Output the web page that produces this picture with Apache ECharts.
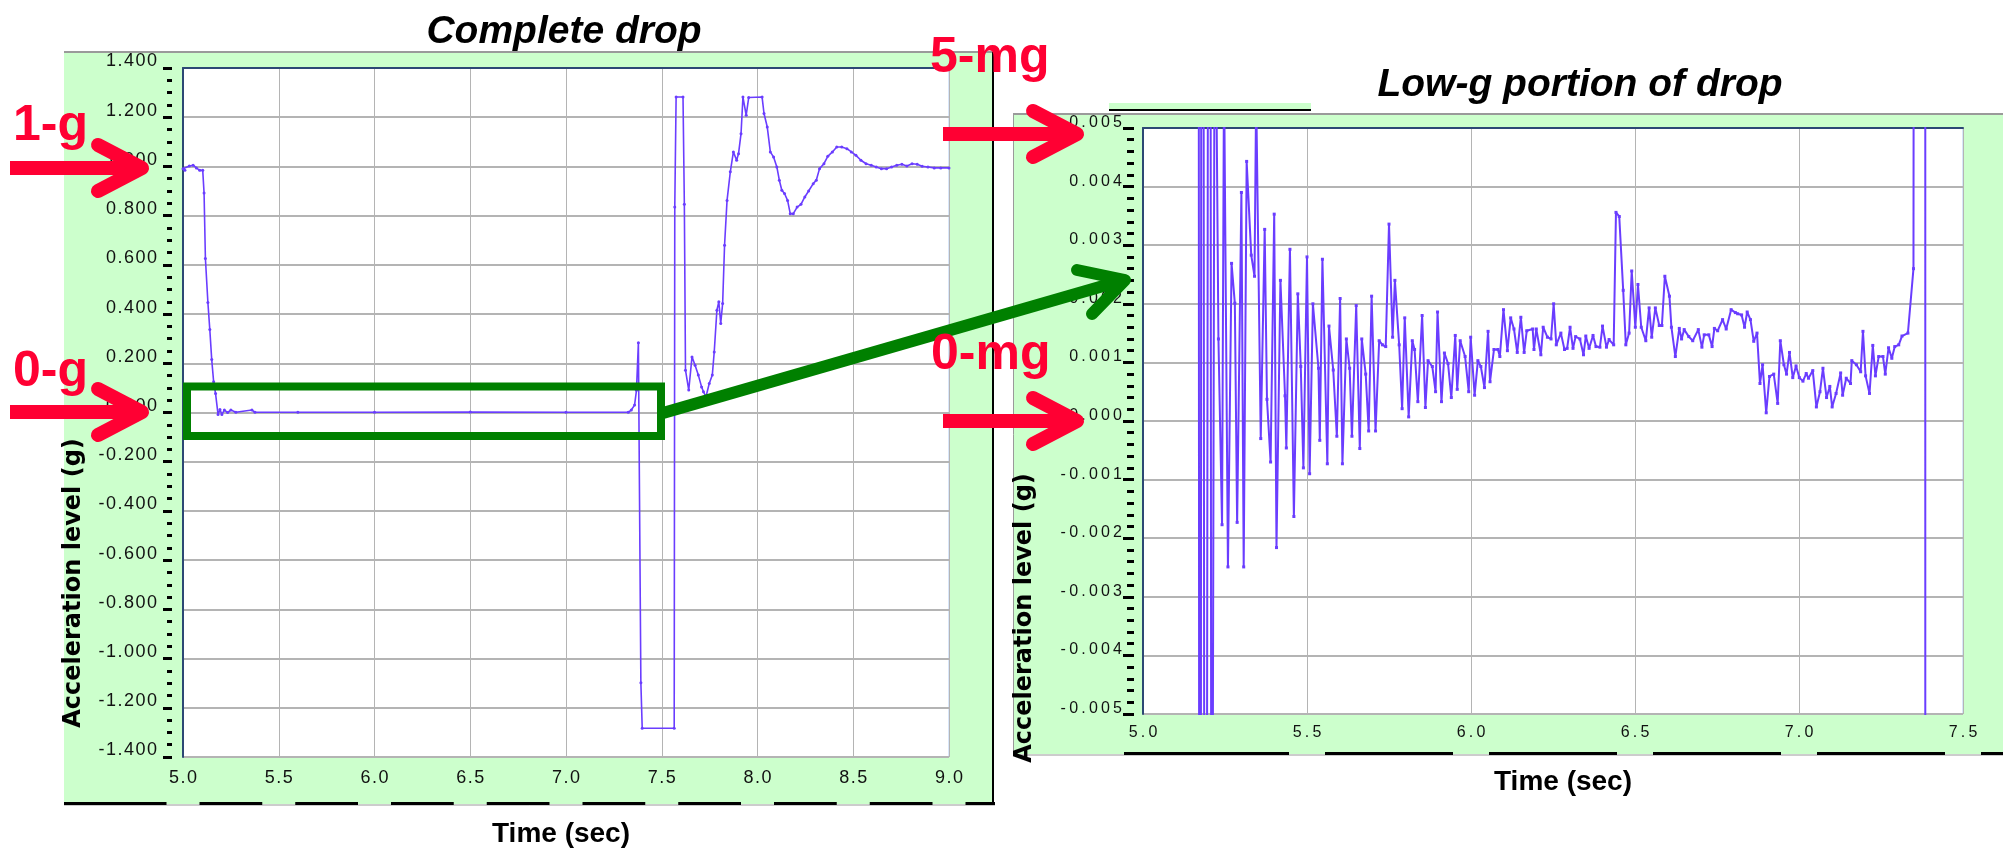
<!DOCTYPE html>
<html>
<head>
<meta charset="utf-8">
<title>Complete drop / Low-g portion of drop</title>
<script src="https://cdn.jsdelivr.net/npm/echarts@6/dist/echarts.min.js"></script>
<style>
    html, body { margin: 0; padding: 0; background: #fff; }
    #chart { width: 2003px; height: 851px; }
</style>
</head>
<body>
<div id="chart"></div>
<script>
    // complete drop, time (s) and acceleration (g)
    var dropTime = [
        5.000, 5.010, 5.033, 5.053, 5.070, 5.087, 5.103, 5.110, 5.117, 5.130,
        5.140, 5.150, 5.160, 5.170, 5.183, 5.193, 5.203, 5.216, 5.233, 5.250,
        5.276, 5.360, 5.376, 5.600, 6.000, 6.500, 7.000, 7.325, 7.341, 7.358,
        7.368, 7.378, 7.391, 7.398, 7.565, 7.568, 7.575, 7.611, 7.618, 7.624,
        7.641, 7.658, 7.674, 7.691, 7.708, 7.718, 7.731, 7.748, 7.764, 7.774,
        7.788, 7.798, 7.808, 7.818, 7.828, 7.841, 7.858, 7.874, 7.891, 7.901,
        7.914, 7.924, 7.941, 7.954, 8.024, 8.034, 8.051, 8.067, 8.084, 8.101,
        8.114, 8.127, 8.141, 8.157, 8.171, 8.187, 8.207, 8.227, 8.247, 8.267,
        8.291, 8.307, 8.324, 8.347, 8.367, 8.391, 8.414, 8.440, 8.467, 8.490,
        8.514, 8.540, 8.567, 8.594, 8.620, 8.647, 8.674, 8.700, 8.727, 8.754,
        8.780, 8.807, 8.834, 8.860, 8.890, 8.923, 8.957, 9.000
    ]
    var dropAccel = [
        0.991, 0.984, 1.002, 1.005, 0.994, 0.984, 0.984, 0.892, 0.626, 0.447,
        0.337, 0.215, 0.125, 0.077, -0.008, 0.012, -0.008, 0.010, 0.000, 0.010,
        0.001, 0.010, 0.001, 0.001, 0.001, 0.002, 0.001, 0.001, 0.010, 0.030,
        0.090, 0.283, -1.098, -1.283, -1.283, 0.835, 1.282, 1.282, 0.846, 0.172,
        0.091, 0.226, 0.192, 0.152, 0.104, 0.084, 0.064, 0.118, 0.152, 0.246,
        0.416, 0.450, 0.362, 0.443, 0.680, 0.862, 0.978, 1.059, 1.025, 1.052,
        1.133, 1.282, 1.208, 1.280, 1.282, 1.215, 1.160, 1.059, 1.038, 0.998,
        0.944, 0.903, 0.890, 0.862, 0.808, 0.808, 0.835, 0.846, 0.876, 0.900,
        0.930, 0.944, 0.991, 1.011, 1.041, 1.059, 1.079, 1.079, 1.072, 1.059,
        1.045, 1.025, 1.011, 1.005, 0.998, 0.991, 0.991, 0.998, 1.005, 1.009,
        1.002, 1.011, 1.009, 1.001, 0.998, 0.994, 0.994, 0.994
    ]

    // low-g portion, time (s) and acceleration (mg)
    var lowTime = [
        5.150, 5.160, 5.174, 5.180, 5.190, 5.203, 5.209, 5.219, 5.230, 5.241,
        5.247, 5.259, 5.270, 5.280, 5.287, 5.300, 5.307, 5.316, 5.330, 5.340,
        5.345, 5.359, 5.371, 5.378, 5.389, 5.400, 5.407, 5.419, 5.433, 5.437,
        5.448, 5.460, 5.472, 5.481, 5.489, 5.500, 5.508, 5.518, 5.535, 5.539,
        5.547, 5.562, 5.567, 5.580, 5.591, 5.601, 5.608, 5.620, 5.630, 5.637,
        5.650, 5.661, 5.667, 5.679, 5.688, 5.697, 5.709, 5.720, 5.730, 5.740,
        5.750, 5.761, 5.768, 5.781, 5.790, 5.798, 5.810, 5.821, 5.828, 5.838,
        5.851, 5.861, 5.869, 5.882, 5.892, 5.898, 5.910, 5.919, 5.930, 5.940,
        5.952, 5.958, 5.967, 5.982, 5.993, 5.999, 6.011, 6.021, 6.030, 6.041,
        6.052, 6.058, 6.070, 6.082, 6.088, 6.099, 6.111, 6.121, 6.131, 6.141,
        6.152, 6.162, 6.170, 6.188, 6.192, 6.199, 6.213, 6.220, 6.233, 6.244,
        6.252, 6.260, 6.274, 6.285, 6.293, 6.302, 6.311, 6.319, 6.332, 6.343,
        6.350, 6.360, 6.372, 6.381, 6.393, 6.401, 6.413, 6.421, 6.435, 6.442,
        6.452, 6.464, 6.472, 6.482, 6.490, 6.501, 6.509, 6.519, 6.533, 6.543,
        6.551, 6.562, 6.574, 6.582, 6.591, 6.605, 6.611, 6.623, 6.635, 6.642,
        6.650, 6.664, 6.676, 6.693, 6.704, 6.711, 6.725, 6.735, 6.742, 6.752,
        6.767, 6.778, 6.793, 6.806, 6.813, 6.825, 6.834, 6.842, 6.852, 6.862,
        6.872, 6.881, 6.889, 6.900, 6.910, 6.923, 6.935, 6.943, 6.954, 6.962,
        6.971, 6.981, 6.991, 7.001, 7.012, 7.022, 7.029, 7.042, 7.053, 7.064,
        7.073, 7.084, 7.094, 7.101, 7.113, 7.127, 7.133, 7.144, 7.157, 7.161,
        7.175, 7.188, 7.195, 7.203, 7.215, 7.225, 7.233, 7.243, 7.256, 7.263,
        7.273, 7.283, 7.292, 7.304, 7.314, 7.332, 7.349, 7.362, 7.383, 7.393
    ]
    var lowAccel = [
        215, 125, -40, 40, -30, 30, -15, 9, 1.40, -1.77,
        6, -2.49, 2.69, 2.01, -1.73, 3.90, -2.49, 4.43, 2.83, 2.47,
        5.6, -0.30, 3.27, 0.37, -0.70, 3.53, -2.16, 2.40, 0.43, -0.46,
        2.93, -1.63, 2.17, 0.93, -0.80, 2.80, -0.90, 2.00, 0.90, -0.33,
        2.76, -0.73, 1.62, 0.87, -0.26, 2.09, -0.73, 1.40, 0.90, -0.26,
        1.97, -0.47, 1.40, 0.80, -0.17, 2.13, -0.17, 1.37, 1.30, 1.27,
        3.36, 1.43, 2.40, 1.30, 0.21, 1.76, 0.07, 1.37, 1.22, 0.33,
        1.80, 0.23, 1.03, 0.93, 0.50, 1.86, 0.33, 1.16, 0.98, 0.40,
        1.46, 0.54, 1.37, 1.10, 0.50, 1.43, 0.44, 1.03, 0.93, 0.57,
        1.53, 0.67, 1.22, 1.22, 1.10, 1.90, 1.20, 1.76, 1.57, 1.17,
        1.77, 1.17, 1.54, 1.57, 1.22, 1.57, 1.13, 1.60, 1.43, 1.40,
        2.00, 1.30, 1.50, 1.22, 1.24, 1.60, 1.24, 1.44, 1.40, 1.13,
        1.45, 1.24, 1.46, 1.27, 1.26, 1.62, 1.26, 1.39, 1.30, 3.56,
        3.49, 2.23, 1.30, 1.50, 2.56, 1.60, 2.33, 1.60, 1.37, 1.93,
        1.43, 1.93, 1.63, 1.63, 2.47, 2.13, 1.60, 1.10, 1.58, 1.40,
        1.56, 1.44, 1.37, 1.56, 1.26, 1.47, 1.47, 1.27, 1.58, 1.54,
        1.73, 1.57, 1.90, 1.85, 1.83, 1.81, 1.60, 1.86, 1.73, 1.36,
        1.50, 0.64, 0.96, 0.14, 0.76, 0.80, 0.30, 1.37, 0.96, 0.80,
        1.17, 0.74, 0.94, 0.74, 0.68, 0.81, 0.73, 0.86, 0.24, 0.50,
        0.90, 0.40, 0.59, 0.24, 0.47, 0.82, 0.44, 0.73, 0.64, 1.03,
        0.96, 0.84, 1.53, 0.77, 0.47, 1.29, 0.77, 1.10, 1.10, 0.80,
        1.25, 1.07, 1.27, 1.30, 1.45, 1.50, 2.60, 90, 283, -1098
    ]

    // axis ranges
    var dropX = [5.0, 9.0, 0.5]
    var dropY = [-1.4, 1.4, 0.2]
    var lowX = [5.0, 7.5, 0.5]
    var lowY = [-5, 5, 1]   // mg, labelled in g

    var FONT = '"Liberation Sans", Arial, Helvetica, sans-serif'
    var RED = '#ff0033'
    var GREEN = '#008000'
    var PANEL = '#ccffcc'
    var PURPLE = '#6a3dff'
    var GRID_GRAY = '#b4b4b4'
    var FRAME_DARK = '#2c4874'
    var FRAME_LIGHT = '#b0cdf3'

    // plot boxes (px)
    var leftBox = {left: 183, top: 68, width: 766, height: 689}
    var rightBox = {left: 1143, top: 128, width: 820, height: 586}

    function spread (s, gap) {
        return String(s).split('').join(gap)
    }

    function pairs (xs, ys) {
        return xs.map(function (x, i) { return [x, ys[i]] })
    }

    function frameAxes (grid, range, pos) {
        return {
            gridIndex: grid, type: 'value', position: pos,
            min: range[0], max: range[1],
            axisLine: {show: true, onZero: false, lineStyle: {color: FRAME_DARK, width: 2}},
            axisTick: {show: false}, axisLabel: {show: false}, splitLine: {show: false}
        }
    }

    // black dashes along the bottom edge of a panel, with gaps under the tick labels
    function baseDashes (y, x0, x1, gapCenters, gapW) {
        var els = []
        var start = x0
        gapCenters.forEach(function (c) {
            if (c - gapW / 2 > start) {
                els.push({type: 'line', z: -5, shape: {x1: start, y1: y, x2: c - gapW / 2, y2: y},
                    style: {stroke: '#000', lineWidth: 3}})
            }
            start = c + gapW / 2
        })
        if (start < x1) {
            els.push({type: 'line', z: -5, shape: {x1: start, y1: y, x2: x1, y2: y},
                style: {stroke: '#000', lineWidth: 3}})
        }
        return els
    }

    function redArrow (x0, tip, y) {
        var vx = tip - 6
        return [
            {type: 'line', z: 100, shape: {x1: x0, y1: y, x2: vx, y2: y},
                style: {stroke: RED, lineWidth: 14, lineCap: 'butt'}},
            {type: 'polyline', z: 100, shape: {points: [[vx - 44, y - 23], [vx, y], [vx - 44, y + 23]]},
                style: {stroke: RED, lineWidth: 14, lineCap: 'round', lineJoin: 'round', fill: null}}
        ]
    }

    function label (text, x, y, font, color, align, rotation) {
        return {
            type: 'text', z: 100, x: x, y: y, rotation: rotation || 0,
            style: {text: text, font: font, fill: color, align: align || 'center', verticalAlign: 'middle'}
        }
    }

    var leftGaps = []
    for (var k = 0; k <= 8; k++) leftGaps.push(leftBox.left + k * leftBox.width / 8)
    var rightGaps = []
    for (var m = 1; m <= 5; m++) rightGaps.push(rightBox.left + m * rightBox.width / 5)

    var graphics = [
        // panels
        {type: 'rect', z: -10, shape: {x: 64, y: 52, width: 929, height: 752}, style: {fill: PANEL}},
        {type: 'rect', z: -10, shape: {x: 1013, y: 113, width: 990, height: 641}, style: {fill: PANEL}},
        {type: 'line', z: -6, shape: {x1: 64, y1: 52, x2: 993, y2: 52}, style: {stroke: '#9a9a9a', lineWidth: 2}},
        {type: 'line', z: -6, shape: {x1: 64, y1: 805, x2: 995, y2: 805}, style: {stroke: '#9a9a9a', lineWidth: 1}},
        {type: 'line', z: -6, shape: {x1: 993, y1: 52, x2: 993, y2: 805}, style: {stroke: '#000', lineWidth: 2}},
        {type: 'line', z: -6, shape: {x1: 1013, y1: 114, x2: 2003, y2: 114}, style: {stroke: '#9a9a9a', lineWidth: 2}},
        {type: 'line', z: -6, shape: {x1: 1013.5, y1: 114, x2: 1013.5, y2: 755}, style: {stroke: '#9a9a9a', lineWidth: 1}},
        {type: 'line', z: -6, shape: {x1: 1013, y1: 755, x2: 2003, y2: 755}, style: {stroke: '#9a9a9a', lineWidth: 1}},
        // cut-off label strip above the right panel
        {type: 'rect', z: -6, shape: {x: 1109, y: 103, width: 202, height: 7}, style: {fill: PANEL}},
        {type: 'line', z: -6, shape: {x1: 1109, y1: 110, x2: 1311, y2: 110}, style: {stroke: '#000', lineWidth: 2}},

        // titles
        label('Complete drop', 564, 32, 'italic bold 39px ' + FONT, '#000'),
        label('Low-g portion of drop', 1580, 85, 'italic bold 39px ' + FONT, '#000'),
        label('Time (sec)', 561, 834, 'bold 28px ' + FONT, '#000'),
        label('Time (sec)', 1563, 782, 'bold 28px ' + FONT, '#000'),
        label('Acceleration level (g)', 74, 583, 'bold 24px "DejaVu Sans", Verdana, sans-serif', '#000', 'center', Math.PI / 2),
        label('Acceleration level (g)', 1025, 618, 'bold 24px "DejaVu Sans", Verdana, sans-serif', '#000', 'center', Math.PI / 2),

        // green zoom box and arrow
        {type: 'rect', z: 100, shape: {x: 187, y: 386.5, width: 474, height: 49.5},
            style: {stroke: GREEN, lineWidth: 8, fill: null}},
        {type: 'line', z: 100, shape: {x1: 663, y1: 413, x2: 1124, y2: 280},
            style: {stroke: GREEN, lineWidth: 12, lineCap: 'butt'}},
        {type: 'polyline', z: 100, shape: {points: [[1077, 270], [1125, 280], [1092, 314]]},
            style: {stroke: GREEN, lineWidth: 12, lineCap: 'round', lineJoin: 'round', fill: null}},

        // red markers
        label('1-g', 13, 126, 'bold 50px ' + FONT, RED, 'left'),
        label('0-g', 13, 372, 'bold 50px ' + FONT, RED, 'left'),
        label('5-mg', 930, 58, 'bold 50px ' + FONT, RED, 'left'),
        label('0-mg', 931, 355, 'bold 50px ' + FONT, RED, 'left')
    ]
    graphics = graphics
        .concat(baseDashes(803.5, 64, 995, leftGaps, 33))
        .concat(baseDashes(753.5, 1124, 2003, rightGaps, 36))
        .concat(redArrow(10, 148, 168))
        .concat(redArrow(10, 148, 412))
        .concat(redArrow(943, 1083, 134))
        .concat(redArrow(943, 1083, 421))

    var chart = echarts.init(document.getElementById('chart'))

    chart.setOption({
        animation: false,
        backgroundColor: '#fff',
        grid: [
            {left: leftBox.left, top: leftBox.top, width: leftBox.width, height: leftBox.height,
                show: true, backgroundColor: '#fff', borderColor: FRAME_LIGHT, borderWidth: 1},
            {left: rightBox.left, top: rightBox.top, width: rightBox.width, height: rightBox.height,
                show: true, backgroundColor: '#fff', borderColor: FRAME_LIGHT, borderWidth: 1}
        ],
        xAxis: [
            {
                gridIndex: 0, type: 'value', min: dropX[0], max: dropX[1], interval: dropX[2],
                axisLine: {show: false, onZero: false},
                axisTick: {show: false},
                axisLabel: {
                    margin: 12, fontSize: 18, fontFamily: FONT, color: '#111',
                    formatter: function (v) { return spread(v.toFixed(1), '\u200A') }
                },
                splitLine: {show: true, lineStyle: {color: GRID_GRAY, width: 1}}
            },
            frameAxes(0, dropX, 'top'),
            {
                gridIndex: 1, type: 'value', min: lowX[0], max: lowX[1], interval: lowX[2],
                axisLine: {show: false, onZero: false},
                axisTick: {show: false},
                axisLabel: {
                    margin: 11, fontSize: 16, fontFamily: FONT, color: '#111',
                    formatter: function (v) { return spread(v.toFixed(1), '\u2009') }
                },
                splitLine: {show: true, lineStyle: {color: GRID_GRAY, width: 1}}
            },
            frameAxes(1, lowX, 'top')
        ],
        yAxis: [
            {
                gridIndex: 0, type: 'value', min: dropY[0], max: dropY[1], interval: dropY[2], offset: 11,
                axisLine: {show: false, onZero: false},
                axisTick: {show: true, length: 9, lineStyle: {color: '#000', width: 3}},
                minorTick: {show: true, splitNumber: 4, length: 5, lineStyle: {color: '#000', width: 3}},
                axisLabel: {
                    margin: 15, fontSize: 18, fontFamily: FONT, color: '#111',
                    verticalAlign: 'bottom', lineHeight: 13,
                    formatter: function (v) {
                        if (Math.abs(v) < 1e-9) v = 0
                        return spread(v.toFixed(3), '\u200A')
                    }
                },
                splitLine: {show: true, lineStyle: {color: GRID_GRAY, width: 2}}
            },
            frameAxes(0, dropY, 'left'),
            {
                gridIndex: 1, type: 'value', min: lowY[0], max: lowY[1], interval: lowY[2], offset: 9,
                axisLine: {show: false, onZero: false},
                axisTick: {show: true, length: 11, lineStyle: {color: '#000', width: 3}},
                minorTick: {show: true, splitNumber: 5, length: 7, lineStyle: {color: '#000', width: 3}},
                axisLabel: {
                    margin: 12, fontSize: 16, fontFamily: FONT, color: '#111',
                    verticalAlign: 'bottom', lineHeight: 11,
                    formatter: function (v) {
                        if (Math.abs(v) < 1e-9) v = 0
                        return spread((v / 1000).toFixed(3), '\u2009')
                    }
                },
                splitLine: {show: true, lineStyle: {color: GRID_GRAY, width: 2}}
            },
            frameAxes(1, lowY, 'left')
        ],
        series: [
            {
                type: 'line', xAxisIndex: 0, yAxisIndex: 0,
                data: pairs(dropTime, dropAccel),
                clip: true, showSymbol: true, showAllSymbol: true,
                symbol: 'circle', symbolSize: 3,
                lineStyle: {color: PURPLE, width: 1.6},
                itemStyle: {color: PURPLE}
            },
            {
                type: 'line', xAxisIndex: 2, yAxisIndex: 2,
                data: pairs(lowTime, lowAccel),
                clip: true, showSymbol: true, showAllSymbol: true,
                symbol: 'rect', symbolSize: 3,
                lineStyle: {color: PURPLE, width: 2},
                itemStyle: {color: PURPLE}
            }
        ],
        graphic: {elements: graphics}
    })
</script>
</body>
</html>
